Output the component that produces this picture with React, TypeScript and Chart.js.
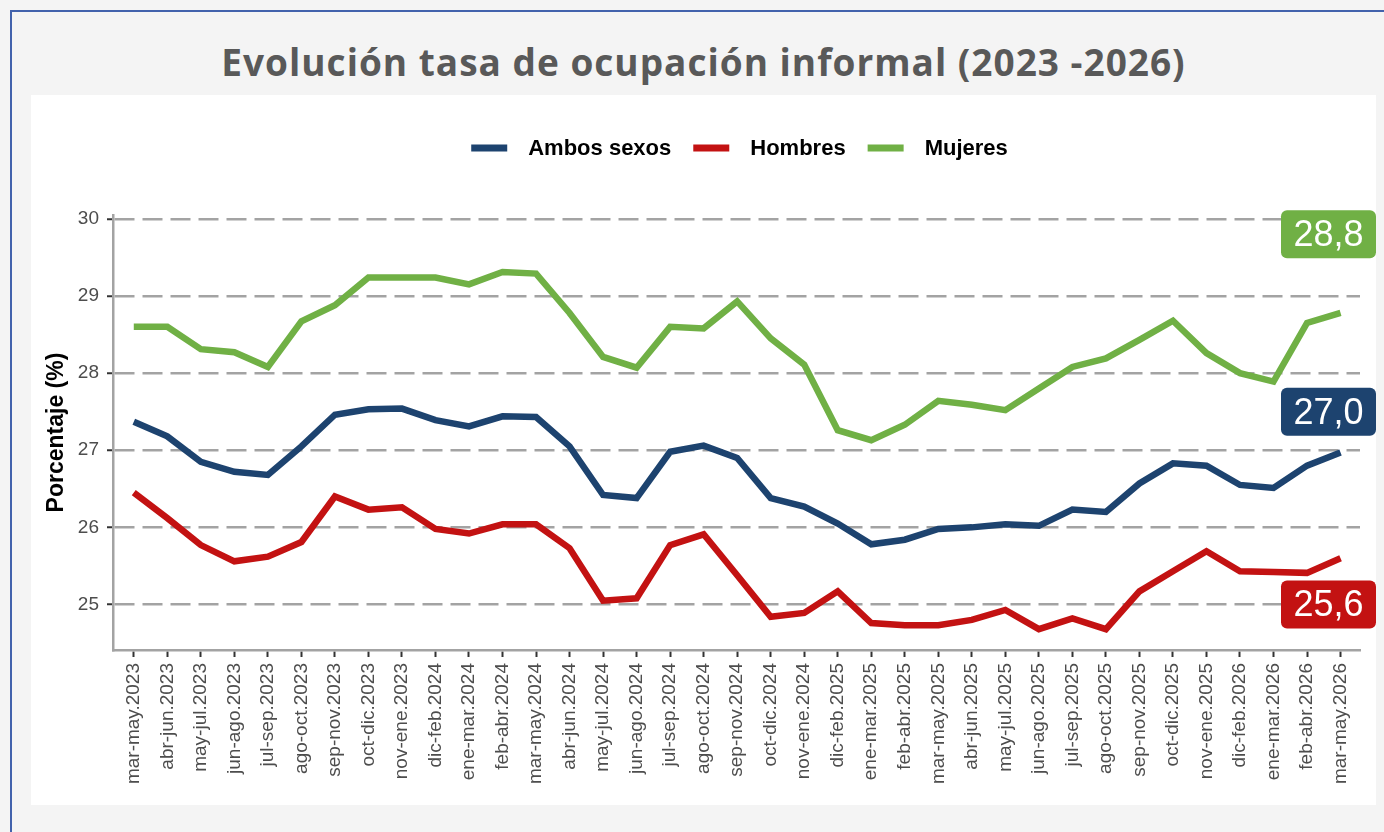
import { useEffect, useRef } from "react";
import { Chart, registerables } from "chart.js";

Chart.register(...registerables);

const CATEGORIES = [
  "mar-may.2023", "abr-jun.2023", "may-jul.2023", "jun-ago.2023", "jul-sep.2023", "ago-oct.2023",
  "sep-nov.2023", "oct-dic.2023", "nov-ene.2023", "dic-feb.2024", "ene-mar.2024", "feb-abr.2024",
  "mar-may.2024", "abr-jun.2024", "may-jul.2024", "jun-ago.2024", "jul-sep.2024", "ago-oct.2024",
  "sep-nov.2024", "oct-dic.2024", "nov-ene.2024", "dic-feb.2025", "ene-mar.2025", "feb-abr.2025",
  "mar-may.2025", "abr-jun.2025", "may-jul.2025", "jun-ago.2025", "jul-sep.2025", "ago-oct.2025",
  "sep-nov.2025", "oct-dic.2025", "nov-ene.2025", "dic-feb.2026", "ene-mar.2026", "feb-abr.2026",
  "mar-may.2026",
];

const AMBOS_SEXOS = [
  27.37, 27.18, 26.85, 26.72, 26.68, 27.05, 27.46, 27.53, 27.54, 27.39, 27.31, 27.44, 27.43,
  27.05, 26.42, 26.38, 26.98, 27.06, 26.9, 26.38, 26.27, 26.05, 25.78, 25.84, 25.98, 26.0,
  26.04, 26.02, 26.23, 26.2, 26.57, 26.83, 26.8, 26.55, 26.51, 26.8, 26.97,
];

const HOMBRES = [
  26.45, 26.12, 25.77, 25.56, 25.62, 25.81, 26.4, 26.23, 26.26, 25.98, 25.92, 26.04, 26.04,
  25.73, 25.05, 25.08, 25.77, 25.91, 25.38, 24.84, 24.89, 25.17, 24.76, 24.73, 24.73, 24.8,
  24.93, 24.68, 24.82, 24.68, 25.17, 25.43, 25.69, 25.43, 25.42, 25.41, 25.6,
];

const MUJERES = [
  28.6, 28.6, 28.31, 28.27, 28.08, 28.67, 28.88, 29.24, 29.24, 29.24, 29.15, 29.31, 29.29,
  28.78, 28.21, 28.07, 28.6, 28.58, 28.93, 28.45, 28.11, 27.26, 27.13, 27.33, 27.64, 27.59,
  27.52, 27.8, 28.08, 28.19, 28.43, 28.68, 28.26, 28.0, 27.89, 28.65, 28.78,
];

const Y_TICKS = [25, 26, 27, 28, 29, 30];

const SERIES_NAMES = ["Ambos sexos", "Hombres", "Mujeres"];
const SERIES_COLORS = ["#1d436f", "#c31212", "#70b045"];

const FONT = "'Liberation Sans', Arial, sans-serif";

const topLegend = {
  id: "topLegend",
  afterDraw(chart: any, _args: any, opts: any) {
    const { ctx, chartArea } = chart;
    ctx.save();
    ctx.font = `bold ${opts.fontSize}px ${FONT}`;
    const items = chart.data.datasets.map((ds: any) => ({
      label: ds.label,
      color: ds.borderColor,
      w: ctx.measureText(ds.label).width,
    }));
    const total =
      items.reduce((s: number, it: any) => s + opts.boxWidth + opts.boxGap + it.w, 0) +
      opts.itemGap * (items.length - 1);
    let x = (chartArea.left + chartArea.right) / 2 - total / 2 + opts.shift;
    const y = opts.y;
    ctx.textBaseline = "middle";
    ctx.textAlign = "left";
    items.forEach((it: any) => {
      ctx.fillStyle = it.color;
      ctx.fillRect(x, y - opts.boxHeight / 2, opts.boxWidth, opts.boxHeight);
      x += opts.boxWidth + opts.boxGap;
      ctx.fillStyle = "#000000";
      ctx.fillText(it.label, x, y + 1);
      x += it.w + opts.itemGap;
    });
    ctx.restore();
  },
};

const endLabels = {
  id: "endLabels",
  afterDatasetsDraw(chart: any, _args: any, opts: any) {
    const { ctx, chartArea } = chart;
    const yScale = chart.scales.y;
    chart.data.datasets.forEach((ds: any, i: number) => {
      const last = ds.data[ds.data.length - 1].y as number;
      const cy = yScale.getPixelForValue(last + opts.offsets[i]);
      const right = chartArea.right + opts.overhang;
      const w = opts.width;
      const h = opts.height;
      ctx.save();
      ctx.fillStyle = ds.borderColor;
      ctx.beginPath();
      ctx.roundRect(right - w, cy - h / 2, w, h, opts.radius);
      ctx.fill();
      ctx.fillStyle = "#ffffff";
      ctx.font = `${opts.fontSize}px ${FONT}`;
      ctx.textAlign = "center";
      ctx.textBaseline = "middle";
      ctx.fillText(last.toFixed(1).replace(".", ","), right - w / 2, cy + 2);
      ctx.restore();
    });
  },
};

export default function App() {
  const canvasRef = useRef<HTMLCanvasElement>(null);

  useEffect(() => {
    document.body.style.margin = "0";
    const canvas = canvasRef.current;
    if (!canvas) return;
    const seriesValues = [AMBOS_SEXOS, HOMBRES, MUJERES];
    const chart = new Chart(canvas, {
      type: "line",
      data: {
        datasets: seriesValues.map((vals, i) => ({
          label: SERIES_NAMES[i],
          data: vals.map((v, j) => ({ x: j, y: v })),
          borderColor: SERIES_COLORS[i],
          backgroundColor: SERIES_COLORS[i],
          borderWidth: 6.5,
          pointRadius: 0,
          pointHoverRadius: 0,
          tension: 0,
          fill: false,
          borderJoinStyle: "miter" as const,
          borderCapStyle: "butt" as const,
        })),
      },
      options: {
        animation: false,
        responsive: false,
        maintainAspectRatio: false,
        events: [],
        layout: { padding: { top: 120, right: 16, bottom: 0, left: 0 } },
        plugins: {
          legend: { display: false },
          title: { display: false },
          tooltip: { enabled: false },
          topLegend: {
            y: 53,
            fontSize: 22,
            boxWidth: 36,
            boxHeight: 7,
            boxGap: 21,
            itemGap: 22,
            shift: 3,
          },
          endLabels: {
            offsets: [0.53, -0.6, 1.02],
            overhang: 16,
            width: 95,
            height: 48,
            radius: 6,
            fontSize: 36,
          },
        } as any,
        scales: {
          x: {
            type: "linear",
            min: -0.62,
            max: 36.58,
            afterBuildTicks: (scale: any) => {
              scale.ticks = CATEGORIES.map((_, i) => ({ value: i }));
            },
            afterFit: (scale: any) => {
              scale.height = 155;
            },
            grid: {
              display: true,
              drawOnChartArea: false,
              drawTicks: true,
              tickLength: 7,
              tickColor: "#333333",
              tickWidth: 2,
            },
            border: { display: true, color: "#a3a3a3", width: 2.5 },
            ticks: {
              autoSkip: false,
              maxRotation: 90,
              minRotation: 90,
              padding: 6,
              color: "#4d4d4d",
              font: { family: FONT, size: 19 },
              callback: (value: any) => CATEGORIES[value as number] ?? "",
            },
          },
          y: {
            type: "linear",
            min: 24.41,
            max: 30.05,
            afterBuildTicks: (scale: any) => {
              scale.ticks = Y_TICKS.map((v) => ({ value: v }));
            },
            afterFit: (scale: any) => {
              scale.width = 82;
            },
            grid: {
              display: true,
              drawOnChartArea: true,
              drawTicks: true,
              color: "#a3a3a3",
              lineWidth: 2.5,
              tickLength: 6,
              tickColor: "#333333",
              tickWidth: 2,
            },
            border: { display: true, color: "#a3a3a3", width: 2.5, dash: [20, 8] },
            ticks: {
              padding: 8,
              color: "#4d4d4d",
              font: { family: FONT, size: 19 },
              callback: (value: any) => String(value),
            },
            title: {
              display: true,
              text: "Porcentaje (%)",
              color: "#000000",
              font: { family: FONT, size: 23, weight: "bold" },
              padding: { top: 12, bottom: 0 },
            },
          },
        },
      },
      plugins: [topLegend, endLabels],
    });
    return () => chart.destroy();
  }, []);

  return (
    <div
      style={{
        position: "relative",
        width: 1384,
        height: 832,
        background: "#f4f4f4",
        overflow: "hidden",
      }}
    >
      <div
        style={{
          position: "absolute",
          left: 10,
          top: 10,
          width: 1420,
          height: 900,
          borderTop: "2px solid #4262ac",
          borderLeft: "2px solid #4262ac",
        }}
      />
      <div
        style={{
          position: "absolute",
          left: 31,
          top: 30,
          width: 1345,
          height: 64,
          lineHeight: "64px",
          textAlign: "center",
          fontFamily: "'Open Sans', 'Liberation Sans', sans-serif",
          fontWeight: 700,
          fontSize: 37,
          letterSpacing: "1px",
          color: "#595959",
          whiteSpace: "nowrap",
        }}
      >
        Evolución tasa de ocupación informal (2023 -2026)
      </div>
      <div
        style={{
          position: "absolute",
          left: 31,
          top: 95,
          width: 1345,
          height: 710,
          background: "#ffffff",
        }}
      >
        <canvas
          ref={canvasRef}
          width={1345}
          height={710}
          style={{ display: "block", width: 1345, height: 710 }}
        />
      </div>
    </div>
  );
}
